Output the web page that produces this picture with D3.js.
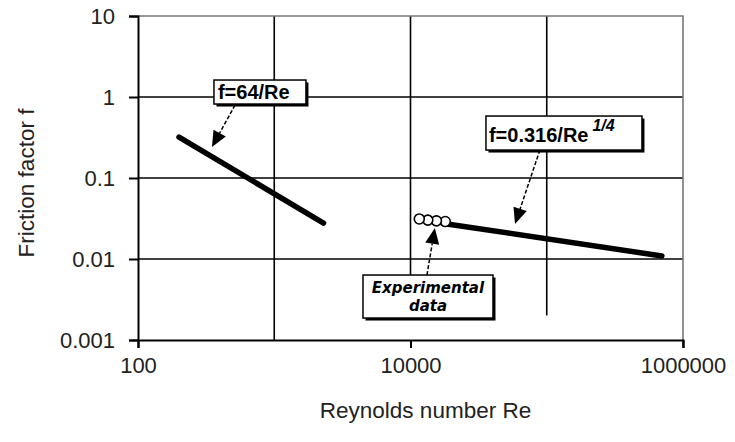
<!DOCTYPE html>
<html>
<head>
<meta charset="utf-8">
<script src="https://cdn.jsdelivr.net/npm/d3@7"></script>
<style>
  body { margin: 0; background: #fff; }
  svg { display: block; font-family: "Liberation Sans", Arial, sans-serif; }
</style>
</head>
<body>
<svg width="735" height="442"></svg>
<script>
// data
var laminarRe = [200, 2300],
    laminarF = [0.32, 0.0278];
var turbRe = [18000, 700000],
    turbF = [0.0273, 0.0109];
var expRe = [11600, 13400, 15500, 18000],
    expF = [0.0312, 0.0302, 0.0296, 0.0290];
var xTicks = [100, 10000, 1000000],
    xGrid = [1000, 10000, 100000],
    yTicks = [0.001, 0.01, 0.1, 1, 10];
// annotation anchors in data units: box corner, arrow start, arrow tip
var noteText = ["f=64/Re", "f=0.316/Re", "Experimental"],
    noteBox = [[361, 1.62], [35800, 0.582], [4480, 0.00634]],
    noteFrom = [[515, 0.796], [89100, 0.222], [13200, 0.00634]],
    noteTip = [[349, 0.241], [58500, 0.027], [15100, 0.0242]];

var svg = d3.select("svg"),
    margin = {top: 16, right: 52, bottom: 102, left: 138},
    width = svg.attr("width") - margin.left - margin.right,
    height = svg.attr("height") - margin.top - margin.bottom,
    g = svg.append("g").attr("transform", "translate(" + margin.left + "," + margin.top + ")");

var x = d3.scaleLog().domain([100, 1000000]).range([0, width]),
    y = d3.scaleLog().domain([0.001, 10]).range([height, 0]);

// horizontal grid
g.selectAll(".hgrid")
  .data(yTicks.slice(1, 4))
  .enter().append("line")
  .attr("x1", 0).attr("x2", width)
  .attr("y1", function(d) { return y(d); })
  .attr("y2", function(d) { return y(d); })
  .style("stroke", "#000").style("stroke-width", 1.6);

// vertical grid (the 10^4 and 10^5 ones stop short of the axis)
g.selectAll(".vgrid")
  .data(xGrid)
  .enter().append("line")
  .attr("x1", function(d) { return x(d); })
  .attr("x2", function(d) { return x(d); })
  .attr("y1", 0)
  .attr("y2", function(d) { return d == 1000 ? height : y(0.002); })
  .style("stroke", "#000").style("stroke-width", 1.6);

// top and right frame
g.append("path")
  .attr("d", "M0,0H" + width + "V" + (height + 7))
  .style("fill", "none").style("stroke", "#777").style("stroke-width", 1.6);

// axes
var xAxis = g.append("g")
  .attr("transform", "translate(0," + height + ")")
  .call(d3.axisBottom(x).tickValues(xTicks).tickFormat(d3.format("d")).tickSize(8).tickPadding(9));
var yAxis = g.append("g")
  .call(d3.axisLeft(y).tickValues(yTicks).tickFormat(function(d) { return String(d); }).tickSize(9).tickPadding(14));

[xAxis, yAxis].forEach(function(a) {
  a.select(".domain").style("stroke", "#000").style("stroke-width", 2);
  a.selectAll(".tick line").style("stroke", "#000").style("stroke-width", 2);
  a.selectAll("text")
    .style("font-family", "'Liberation Sans', Arial, sans-serif")
    .style("font-size", "22px")
    .style("fill", "#222");
});
yAxis.selectAll("text").attr("dy", "0.36em");

// axis titles
svg.append("text")
  .attr("x", margin.left + width / 2 + 15)
  .attr("y", 418)
  .attr("text-anchor", "middle")
  .style("font-size", "22.5px").style("fill", "#222")
  .text("Reynolds number Re");
svg.append("text")
  .attr("transform", "translate(34," + (margin.top + height / 2 + 5) + ") rotate(-90)")
  .attr("text-anchor", "middle")
  .style("font-size", "22.5px").style("fill", "#222")
  .text("Friction factor f");

// curves
var line = d3.line()
  .x(function(d) { return x(d[0]); })
  .y(function(d) { return y(d[1]); });

[[laminarRe, laminarF], [turbRe, turbF]].forEach(function(s) {
  g.append("path")
    .datum(d3.zip(s[0], s[1]))
    .attr("d", line)
    .style("fill", "none").style("stroke", "#000")
    .style("stroke-width", 5.5).style("stroke-linecap", "round");
});

// experimental points
g.selectAll(".pt")
  .data(d3.zip(expRe, expF).reverse())
  .enter().append("circle")
  .attr("cx", function(d) { return x(d[0]); })
  .attr("cy", function(d) { return y(d[1]); })
  .attr("r", 5)
  .style("fill", "#fff").style("stroke", "#000").style("stroke-width", 1.6);

// annotations
var boxSize = [[92, 24], [156, 34], [130, 43]];
var ann = g.append("g");

noteText.forEach(function(t, i) {
  var fx = x(noteFrom[i][0]), fy = y(noteFrom[i][1]),
      tx = x(noteTip[i][0]), ty = y(noteTip[i][1]);
  var ang = Math.atan2(ty - fy, tx - fx), len = 16, hw = 7;
  var bx = tx - len * Math.cos(ang), by = ty - len * Math.sin(ang);
  ann.append("line")
    .attr("x1", fx).attr("y1", fy).attr("x2", bx).attr("y2", by)
    .style("stroke", "#000").style("stroke-width", 1.5)
    .style("stroke-dasharray", "4,2");
  ann.append("path")
    .attr("d", "M" + tx + "," + ty +
      "L" + (bx + hw * Math.sin(ang)) + "," + (by - hw * Math.cos(ang)) +
      "L" + (bx - hw * Math.sin(ang)) + "," + (by + hw * Math.cos(ang)) + "Z")
    .style("fill", "#000");

  var x0 = x(noteBox[i][0]), y0 = y(noteBox[i][1]),
      w = boxSize[i][0], h = boxSize[i][1];
  ann.append("rect")
    .attr("x", x0 + 2.5).attr("y", y0 + 2.5).attr("width", w).attr("height", h)
    .style("fill", "#000");
  ann.append("rect")
    .attr("x", x0).attr("y", y0).attr("width", w).attr("height", h)
    .style("fill", "#fff").style("stroke", "#000").style("stroke-width", 1.5);

  if (i == 0) {
    ann.append("text")
      .attr("x", x0 + 4).attr("y", y0 + 19)
      .style("font-weight", "bold").style("font-size", "20px")
      .text(t);
  } else if (i == 1) {
    var tt = ann.append("text")
      .attr("x", x0 + 3).attr("y", y0 + 26)
      .style("font-weight", "bold").style("font-size", "20px")
      .text(t);
    tt.append("tspan")
      .attr("dx", 4).attr("dy", -11)
      .style("font-style", "italic").style("font-size", "16px")
      .text("1/4");
  } else {
    var te = ann.append("text")
      .attr("text-anchor", "middle")
      .style("font-family", "'DejaVu Sans', Verdana, sans-serif")
      .style("font-weight", "bold").style("font-style", "italic").style("font-size", "15px");
    te.append("tspan").attr("x", x0 + w / 2).attr("y", y0 + 18).text(t);
    te.append("tspan").attr("x", x0 + w / 2).attr("y", y0 + 36).text("data");
  }
});
</script>
</body>
</html>
